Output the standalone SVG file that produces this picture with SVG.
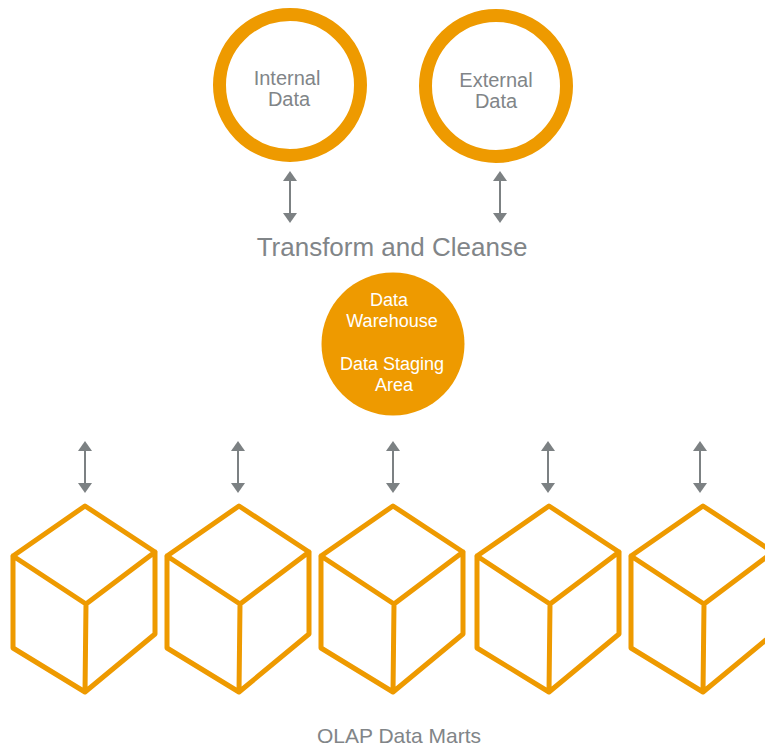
<svg xmlns="http://www.w3.org/2000/svg" width="765" height="746" viewBox="0 0 765 746">
  <style>
    .ring { fill: #ffffff; stroke: #EE9A00; stroke-width: 13; }
    .hub { fill: #EE9A00; stroke: none; }
    .cube { fill: none; stroke: #EE9A00; stroke-width: 5; stroke-linejoin: round; stroke-linecap: round; }
    .gtxt { font-family: "Liberation Sans", Arial, sans-serif; fill: #818588; text-anchor: middle; }
    .wtxt { font-family: "Liberation Sans", Arial, sans-serif; fill: #ffffff; text-anchor: middle; font-size: 18px; }
    .conn { stroke: #7C8183; stroke-width: 2; fill: none; }
  </style>
  <defs>
    <marker id="ah" viewBox="0 0 10 14" refX="2" refY="7" markerWidth="10" markerHeight="14" markerUnits="userSpaceOnUse" orient="auto-start-reverse">
      <path d="M0,0 L10,7 L0,14 Z" fill="#7C8183"/>
    </marker>
    <path id="cubeShape" class="cube" d="M0,0 L-72,50 L-72,142 L0,186 L70,128 L70,46 Z M-72,50 L1,98 L70,46 M1,98 L0,186"/>
  </defs>
  <rect width="765" height="746" fill="#ffffff"/>

  <g id="internal-data">
    <circle class="ring" cx="290" cy="85" r="70.5"/>
    <text class="gtxt" font-size="20" x="287" y="85">Internal</text>
    <text class="gtxt" font-size="20" x="289" y="106">Data</text>
  </g>
  <g id="external-data">
    <circle class="ring" cx="496" cy="86" r="70.5"/>
    <text class="gtxt" font-size="20" x="496" y="87">External</text>
    <text class="gtxt" font-size="20" x="496" y="108">Data</text>
  </g>
  <g id="transform-and-cleanse">
    <text class="gtxt" font-size="26" x="392" y="256">Transform and Cleanse</text>
  </g>
  <g id="data-warehouse">
    <circle class="hub" cx="393" cy="344" r="71.5"/>
    <text class="wtxt" x="389" y="306">Data</text>
    <text class="wtxt" x="392" y="327">Warehouse</text>
    <text class="wtxt" x="392" y="370">Data Staging</text>
    <text class="wtxt" x="394" y="391">Area</text>
  </g>

  <g id="cube-1"><use href="#cubeShape" x="85" y="506"/></g>
  <g id="cube-2"><use href="#cubeShape" x="239" y="506"/></g>
  <g id="cube-3"><use href="#cubeShape" x="393" y="506"/></g>
  <g id="cube-4"><use href="#cubeShape" x="549" y="506"/></g>
  <g id="cube-5"><use href="#cubeShape" x="703" y="506"/></g>

  <g id="olap-data-marts">
    <text class="gtxt" font-size="21" x="399" y="743">OLAP Data Marts</text>
  </g>

  <g id="connectors">
    <line class="conn" x1="290" y1="179" x2="290" y2="215" marker-start="url(#ah)" marker-end="url(#ah)"/>
    <line class="conn" x1="500" y1="179" x2="500" y2="215" marker-start="url(#ah)" marker-end="url(#ah)"/>
    <line class="conn" x1="85" y1="449" x2="85" y2="485" marker-start="url(#ah)" marker-end="url(#ah)"/>
    <line class="conn" x1="238" y1="449" x2="238" y2="485" marker-start="url(#ah)" marker-end="url(#ah)"/>
    <line class="conn" x1="393" y1="449" x2="393" y2="485" marker-start="url(#ah)" marker-end="url(#ah)"/>
    <line class="conn" x1="548" y1="449" x2="548" y2="485" marker-start="url(#ah)" marker-end="url(#ah)"/>
    <line class="conn" x1="700" y1="449" x2="700" y2="485" marker-start="url(#ah)" marker-end="url(#ah)"/>
  </g>
</svg>
